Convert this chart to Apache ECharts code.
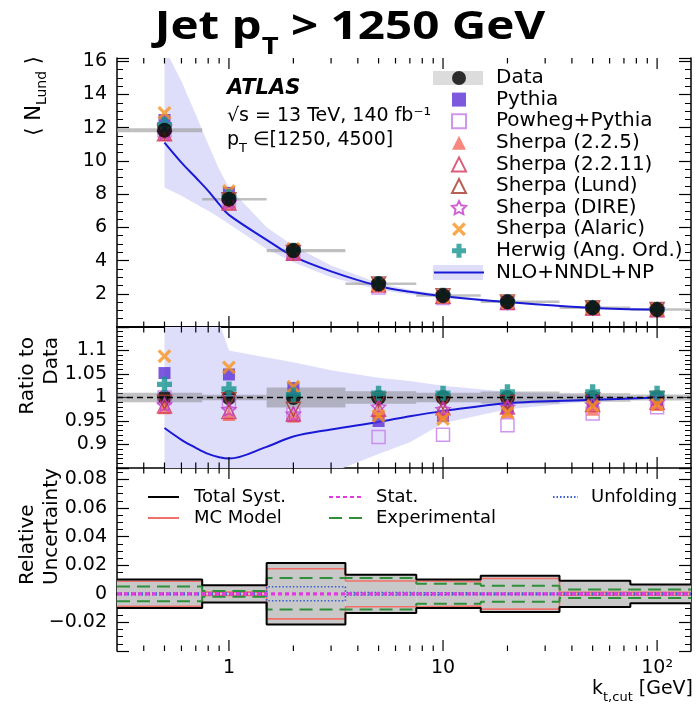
<!DOCTYPE html>
<html>
<head>
<meta charset="utf-8">
<style>
  html, body { margin: 0; padding: 0; background: #fff; }
  #chart { width: 696px; height: 713px; }
</style>
<script src="https://cdn.jsdelivr.net/npm/echarts@6.0.0/dist/echarts.min.js"></script>
</head>
<body>
<div id="chart"></div>
<script>
// ---- data ----
const ktCut = [0.5, 1, 2, 5, 10, 20, 50, 100];
const binEdges = [0.3, 0.75, 1.5, 3.5, 7.5, 15, 35, 75, 144];
const dataNLund = [11.85, 7.7, 4.6, 2.6, 1.9, 1.52, 1.16, 1.05];

// MC / Data ratios
const pythiaRatio = [1.052, 1.049, 1.02, 0.950, 0.961, 0.978, 0.992, 0.995];
const powhegRatio = [1.0, 0.99, 0.964, 0.916, 0.921, 0.941, 0.966, 0.979];
const sherpa225Ratio = [0.978, 0.964, 0.96, 0.97, 0.965, 0.97, 0.975, 0.985];
const sherpa2211Ratio = [0.982, 0.97, 0.965, 0.975, 0.978, 0.98, 0.985, 0.99];
const sherpaLundRatio = [0.99, 0.995, 0.975, 0.995, 0.99, 0.99, 0.995, 0.998];
const sherpaDireRatio = [0.985, 0.975, 0.965, 0.98, 0.975, 0.98, 0.985, 0.99];
const sherpaAlaricRatio = [1.088, 1.064, 1.023, 0.961, 0.954, 0.968, 0.982, 0.985];
const herwigRatio = [1.028, 1.018, 1.006, 1.009, 1.009, 1.012, 1.012, 1.009];

// NLO+NNDL+NP prediction
const theoryKt = [0.5, 0.6, 0.7, 0.8, 0.9, 1, 1.5, 2, 3, 5, 7, 10, 20, 50, 100];
const theoryMid = [11.1, 9.9, 9.0, 8.2, 7.4, 6.75, 5.25, 4.25, 3.35, 2.47, 2.12, 1.85, 1.5, 1.15, 1.05];
const theoryHigh = [16.8, 14.8, 12.8, 11.0, 9.5, 8.4, 6.0, 4.9, 3.7, 2.65, 2.25, 1.95, 1.54, 1.17, 1.06];
const theoryLow = [8.4, 7.9, 7.4, 7.0, 6.6, 6.2, 4.7, 3.9, 3.0, 2.25, 1.95, 1.76, 1.46, 1.13, 1.04];
const theoryRatioMid = [0.935, 0.91, 0.893, 0.88, 0.873, 0.87, 0.895, 0.917, 0.932, 0.948, 0.96, 0.971, 0.988, 0.995, 1.0];
const theoryRatioHigh = [1.25, 1.23, 1.21, 1.19, 1.16, 1.10, 1.085, 1.075, 1.058, 1.042, 1.035, 1.025, 1.012, 1.004, 1.0];
const theoryRatioLow = [0.7, 0.7, 0.7, 0.7, 0.7, 0.7, 0.74, 0.78, 0.84, 0.88, 0.905, 0.945, 0.975, 0.992, 1.0];

// relative uncertainties per bin
const totalSyst = [0.010, 0.006, 0.0215, 0.0134, 0.0100, 0.0127, 0.0092, 0.0066];
const mcModel = [0.0088, 0.0012, 0.0175, 0.0090, 0.0085, 0.0107, 0.0010, 0.0010];
const experimental = [0.0052, 0.0020, 0.0110, 0.0110, 0.0070, 0.0056, 0.0030, 0.0030];
const statUnc = [0.0004, 0.0004, 0.0004, 0.0004, 0.0004, 0.0004, 0.0004, 0.0004];
const unfolding = [0.0006, 0.0006, 0.0049, 0.0008, 0.0006, 0.0006, 0.0006, 0.0006];

// tick labels
const xMajor = [1, 10, 100];
const xMinor = [0.4, 0.5, 0.6, 0.7, 0.8, 0.9, 2, 3, 4, 5, 6, 7, 8, 9, 20, 30, 40, 50, 60, 70, 80, 90];
const yLabelsTop = [2, 4, 6, 8, 10, 12, 14, 16];
const yLabelsRatio = [0.9, 0.95, 1, 1.05, 1.1];
const yLabelsUnc = [-0.02, 0, 0.02, 0.04, 0.06, 0.08];

// ---- layout ----
const FONT = '"DejaVu Sans", "Liberation Sans", sans-serif';
const grids = [
  {left: 117, top: 58, width: 574, height: 269},
  {left: 117, top: 327, width: 574, height: 141},
  {left: 117, top: 468, width: 574, height: 183}
];
const yRanges = [[0, 16.2, 2, 4], [0.85, 1.15, 0.05, 5], [-0.04, 0.088, 0.02, 4]];
const yLabelSets = [yLabelsTop, yLabelsRatio, yLabelsUnc];

const STAR = 'path://M0,-10L2.9,-4L9.5,-3.1L4.7,1.5L5.9,8.1L0,5L-5.9,8.1L-4.7,1.5L-9.5,-3.1L-2.9,-4Z';
const ALARIC = 'path://M-10,-6.5L-6.5,-10L0,-3.2L6.5,-10L10,-6.5L3.2,0L10,6.5L6.5,10L0,3.2L-6.5,10L-10,6.5L-3.2,0Z';
const PLUS = 'path://M-3.6,-10L3.6,-10L3.6,-3.6L10,-3.6L10,3.6L3.6,3.6L3.6,10L-3.6,10L-3.6,3.6L-10,3.6L-10,-3.6L-3.6,-3.6Z';

const mcList = [
  {name: 'Pythia', ratio: pythiaRatio, symbol: 'rect', size: 12, color: '#5b2fd4', open: false},
  {name: 'Powheg+Pythia', ratio: powhegRatio, symbol: 'rect', size: 13, color: '#c47ae8', open: true},
  {name: 'Sherpa (2.2.5)', ratio: sherpa225Ratio, symbol: 'triangle', size: 13, color: '#f46a5c', open: false},
  {name: 'Sherpa (2.2.11)', ratio: sherpa2211Ratio, symbol: 'triangle', size: 14, color: '#d2335a', open: true},
  {name: 'Sherpa (Lund)', ratio: sherpaLundRatio, symbol: 'triangle', size: 14, color: '#a53a2c', open: true, rotate: 180},
  {name: 'Sherpa (DIRE)', ratio: sherpaDireRatio, symbol: STAR, size: 14, color: '#c43cc8', open: true},
  {name: 'Sherpa (Alaric)', ratio: sherpaAlaricRatio, symbol: ALARIC, size: 14, color: '#f7931e', open: false},
  {name: 'Herwig (Ang. Ord.)', ratio: herwigRatio, symbol: PLUS, size: 15, color: '#16938f', open: false}
];

const chart = echarts.init(document.getElementById('chart'));

function sameVal(a, b) { return Math.abs(a - b) < 1e-9; }

function yLabelFmt(allowed) {
  return v => {
    const hit = allowed.find(a => sameVal(a, v));
    return hit === undefined ? '' : String(hit).replace('-', '\u2212');
  };
}

function xLabelFmt(v) {
  const e = Math.log10(v);
  if (Math.abs(e - Math.round(e)) > 1e-6) return '';
  const n = Math.round(e);
  if (n === 0) return '1';
  if (n === 1) return '10';
  if (n === 2) return '10\u00b2';
  return '';
}

// x axes: bottom ones carry the scale, top ones only draw the frame line
const xAxes = [];
grids.forEach((g, i) => {
  xAxes.push({
    type: 'log', logBase: 10, gridIndex: i, min: 0.3, max: 144, position: 'bottom',
    axisLine: {show: true, lineStyle: {color: '#000', width: 1.5}},
    axisTick: {show: false}, minorTick: {show: false},
    splitLine: {show: false}, minorSplitLine: {show: false},
    axisLabel: {show: i === 2, formatter: xLabelFmt, color: '#000', fontSize: 19, fontFamily: FONT, margin: 8,
      showMinLabel: false, showMaxLabel: false}
  });
});
grids.forEach((g, i) => {
  xAxes.push({
    type: 'log', logBase: 10, gridIndex: i, min: 0.3, max: 144, position: 'top',
    axisLine: {show: true, lineStyle: {color: '#000', width: 1.5}},
    axisTick: {show: false}, axisLabel: {show: false}, splitLine: {show: false}
  });
});

const yAxes = [];
['left', 'right'].forEach(pos => {
  grids.forEach((g, i) => {
    const [min, max, interval, minorSplit] = yRanges[i];
    yAxes.push({
      type: 'value', gridIndex: i, position: pos, min, max, interval,
      axisLine: {show: true, onZero: false, lineStyle: {color: '#000', width: 1.5}},
      axisTick: {show: true, inside: true, length: 12, lineStyle: {color: '#000', width: 1.2}},
      minorTick: {show: true, splitNumber: minorSplit, length: 6, lineStyle: {color: '#000', width: 1}},
      splitLine: {show: false}, minorSplitLine: {show: false},
      axisLabel: {show: pos === 'left', formatter: yLabelFmt(yLabelSets[i]), color: '#000',
        fontSize: 19, fontFamily: FONT, margin: 10}
    });
  });
});

function xTickSeries(gi) {
  const [ymin, ymax] = yRanges[gi];
  const vals = xMajor.concat(xMinor);
  return {
    type: 'custom', xAxisIndex: gi, yAxisIndex: gi, silent: true, z: 20,
    data: vals.map(v => [v, ymin]),
    encode: {x: 0, y: 1},
    renderItem: (params, api) => {
      const v = api.value(0);
      const len = xMajor.some(m => sameVal(m, v)) ? 11 : 5.5;
      const b = api.coord([v, ymin]);
      const t = api.coord([v, ymax]);
      const st = {stroke: '#000', lineWidth: 1.2};
      return {type: 'group', children: [
        {type: 'line', shape: {x1: b[0], y1: b[1], x2: b[0], y2: b[1] - len}, style: st},
        {type: 'line', shape: {x1: t[0], y1: t[1], x2: t[0], y2: t[1] + len}, style: st}
      ]};
    }
  };
}

function binRects(gi, lows, highs, color, z) {
  return {
    type: 'custom', xAxisIndex: gi, yAxisIndex: gi, silent: true, z,
    data: lows.map((lo, i) => [binEdges[i], binEdges[i + 1], lo, highs[i]]),
    encode: {x: [0, 1], y: [2, 3]},
    renderItem: (params, api) => {
      const p0 = api.coord([api.value(0), api.value(2)]);
      const p1 = api.coord([api.value(1), api.value(3)]);
      let h = p0[1] - p1[1];
      let y = p1[1];
      if (h < 2.5) { y -= (2.5 - h) / 2; h = 2.5; }
      return {type: 'rect', shape: {x: p0[0], y, width: p1[0] - p0[0], height: h}, style: {fill: color}};
    }
  };
}

// theory uncertainty band as one clipped polygon
function bandSeries(gi, low, high) {
  return {
    type: 'custom', xAxisIndex: gi, yAxisIndex: gi, silent: true, z: 1,
    data: [[theoryKt[0], low[0]]],
    encode: {x: 0, y: 1},
    renderItem: (params, api) => {
      const upper = theoryKt.map((k, i) => api.coord([k, high[i]]));
      const lower = theoryKt.map((k, i) => api.coord([k, low[i]])).reverse();
      const cs = params.coordSys;
      return {
        type: 'polygon', shape: {points: upper.concat(lower)}, style: {fill: '#dedefa'},
        clipPath: {type: 'rect', shape: {x: cs.x, y: cs.y, width: cs.width, height: cs.height}}
      };
    }
  };
}

function theoryLine(gi, vals) {
  return {
    type: 'line', name: 'NLO+NNDL+NP', xAxisIndex: gi, yAxisIndex: gi,
    data: theoryKt.map((k, i) => [k, vals[i]]), smooth: 0.35, symbol: 'none', showSymbol: false,
    lineStyle: {color: '#1a1ad6', width: 2}, itemStyle: {color: '#1a1ad6'}, silent: true, z: 3
  };
}

function mcScatter(mc, gi, values) {
  return {
    type: 'scatter', name: mc.name, xAxisIndex: gi, yAxisIndex: gi,
    symbol: mc.symbol, symbolSize: mc.size, symbolRotate: mc.rotate || 0, symbolKeepAspect: true,
    itemStyle: {color: mc.open ? 'rgba(0,0,0,0)' : mc.color, borderColor: mc.color, borderWidth: mc.open ? 1.5 : 0},
    data: ktCut.map((k, i) => [k, values[i]]), silent: true, z: 4
  };
}

function stepSeries(name, arr, sign, lineStyle, z) {
  return {
    type: 'line', name, xAxisIndex: 2, yAxisIndex: 2, step: 'end', symbol: 'none', showSymbol: false,
    data: binEdges.map((e, i) => [e, sign * arr[Math.min(i, arr.length - 1)]]),
    lineStyle, itemStyle: {color: lineStyle.color}, silent: true, z
  };
}

const series = [];

// --- top panel ---
series.push(bandSeries(0, theoryLow, theoryHigh));
series.push(binRects(0, dataNLund.map((v, i) => v * (1 - totalSyst[i])),
  dataNLund.map((v, i) => v * (1 + totalSyst[i])), 'rgba(150,150,150,0.6)', 2));
series.push(theoryLine(0, theoryMid));
mcList.forEach(mc => series.push(mcScatter(mc, 0, dataNLund.map((v, i) => v * mc.ratio[i]))));
series.push({
  type: 'scatter', name: 'Data', xAxisIndex: 0, yAxisIndex: 0, symbol: 'circle', symbolSize: 15,
  itemStyle: {color: '#000'}, data: ktCut.map((k, i) => [k, dataNLund[i]]), silent: true, z: 6
});
series.push(xTickSeries(0));

// --- ratio panel ---
series.push(bandSeries(1, theoryRatioLow, theoryRatioHigh));
series.push(binRects(1, totalSyst.map(u => 1 - u), totalSyst.map(u => 1 + u), 'rgba(120,120,125,0.45)', 2));
series.push({
  type: 'scatter', name: 'Data', xAxisIndex: 1, yAxisIndex: 1, symbol: 'circle', symbolSize: 15,
  itemStyle: {color: '#000'}, data: ktCut.map(k => [k, 1]), silent: true, z: 3,
  markLine: {silent: true, symbol: 'none', label: {show: false},
    lineStyle: {color: '#000', width: 1.3, type: [6, 4]}, data: [{yAxis: 1}]}
});
series.push(theoryLine(1, theoryRatioMid));
mcList.forEach(mc => series.push(mcScatter(mc, 1, mc.ratio)));
series.push(xTickSeries(1));

// --- uncertainty panel ---
series.push(binRects(2, totalSyst.map(u => -u), totalSyst, '#c8c8c8', 1));
const uncStyles = [
  ['MC Model', mcModel, {color: '#f0706a', width: 1.6}, 3],
  ['Experimental', experimental, {color: '#2f8f3a', width: 2, type: [13, 7]}, 4],
  ['Unfolding', unfolding, {color: '#3b5bd0', width: 1.6, type: [1.5, 2]}, 5],
  ['Stat.', statUnc, {color: '#e03ae0', width: 2, type: [4, 3]}, 6],
  ['Total Syst.', totalSyst, {color: '#000', width: 2}, 7]
];
uncStyles.forEach(([name, arr, ls, z]) => {
  series.push(stepSeries(name, arr, 1, ls, z));
  series.push(stepSeries(name, arr, -1, ls, z));
});
series.push(xTickSeries(2));

// legend text sits 5px after the icon; extra left padding moves it to where the figure has it
function legendText(size, lh, extra) {
  return {color: '#000', fontSize: size, fontFamily: FONT, lineHeight: lh, padding: [0, 0, 0, extra]};
}
const noDot = {opacity: 0};

const option = {
  animation: false,
  textStyle: {fontFamily: FONT},
  grid: grids.map(g => Object.assign({show: false, outerBoundsMode: 'none', containLabel: false}, g)),
  xAxis: xAxes,
  yAxis: yAxes,
  legend: [
    {
      orient: 'vertical', left: 451, top: 67.2, padding: 0, itemGap: 0, itemWidth: 14, itemHeight: 14,
      selectedMode: false, textStyle: legendText(20, 21.6, 25),
      data: ['Data'].concat(mcList.map(m => m.name))
    },
    {
      orient: 'vertical', left: 433, top: 261.6, padding: 0, itemGap: 0, itemWidth: 50, itemHeight: 14,
      selectedMode: false, textStyle: legendText(20, 21.6, 7), itemStyle: noDot,
      data: ['NLO+NNDL+NP']
    },
    {
      orient: 'vertical', left: 147, top: 486.5, padding: 0, itemGap: 0, itemWidth: 31, itemHeight: 14,
      selectedMode: false, textStyle: legendText(18, 21, 10), itemStyle: noDot,
      data: ['Total Syst.', 'MC Model']
    },
    {
      orient: 'vertical', left: 328, top: 486.5, padding: 0, itemGap: 0, itemWidth: 34, itemHeight: 14,
      selectedMode: false, textStyle: legendText(18, 21, 8), itemStyle: noDot,
      data: ['Stat.', 'Experimental']
    },
    {
      orient: 'vertical', left: 552, top: 486.5, padding: 0, itemGap: 0, itemWidth: 25, itemHeight: 14,
      selectedMode: false, textStyle: legendText(18, 21, 8), itemStyle: noDot,
      data: ['Unfolding']
    }
  ],
  graphic: [
    // legend backdrops for the data band and the theory band
    {type: 'rect', left: 433, top: 71, shape: {width: 50, height: 14}, style: {fill: '#dcdcdc'}, z: 0, silent: true},
    {type: 'rect', left: 433, top: 265, shape: {width: 50, height: 15}, style: {fill: '#dedefa'}, z: 0, silent: true},
    {
      type: 'text', x: 350, y: 8, scaleX: 1.22, silent: true,
      style: {
        text: '{b|Jet p}{s|T}{b| > 1250 GeV}', textAlign: 'center', align: 'center',
        textVerticalAlign: 'top', verticalAlign: 'top', fill: '#000',
        rich: {
          b: {fontFamily: '"Open Sans", "DejaVu Sans", sans-serif', fontWeight: 'bold', fontSize: 39, lineHeight: 39, verticalAlign: 'top'},
          s: {fontFamily: '"Open Sans", "DejaVu Sans", sans-serif', fontWeight: 'bold', fontSize: 24, lineHeight: 24, verticalAlign: 'top', padding: [27, 0, 0, 0]}
        }
      }
    },
    {
      type: 'text', x: 227, y: 89, silent: true,
      style: {text: 'ATLAS', fontFamily: FONT, fontWeight: 'bold', fontStyle: 'italic', fontSize: 21,
        fill: '#000', textVerticalAlign: 'middle', verticalAlign: 'middle'}
    },
    {
      type: 'text', x: 227, y: 116, silent: true,
      style: {text: '\u221as = 13 TeV, 140 fb\u207b\u00b9', fontFamily: FONT, fontSize: 19,
        fill: '#000', textVerticalAlign: 'middle', verticalAlign: 'middle'}
    },
    {
      type: 'text', x: 227, y: 131, silent: true,
      style: {
        text: '{b|p}{s|T}{b| \u2208[1250, 4500]}', fill: '#000', textVerticalAlign: 'top', verticalAlign: 'top',
        rich: {
          b: {fontFamily: FONT, fontSize: 19, lineHeight: 19, verticalAlign: 'top'},
          s: {fontFamily: FONT, fontSize: 13, lineHeight: 13, verticalAlign: 'top', padding: [11, 0, 0, 0]}
        }
      }
    },
    {
      type: 'text', x: 35, y: 56, rotation: Math.PI / 2, silent: true,
      style: {
        text: '{b|\u27e8 N}{s|Lund}{b| \u27e9}', fill: '#000', textAlign: 'right', align: 'right',
        textVerticalAlign: 'middle', verticalAlign: 'middle',
        rich: {
          b: {fontFamily: FONT, fontSize: 21, lineHeight: 21, verticalAlign: 'top'},
          s: {fontFamily: FONT, fontSize: 14, lineHeight: 14, verticalAlign: 'top', padding: [11, 0, 0, 0]}
        }
      }
    },
    {
      type: 'text', x: 40, y: 337, rotation: Math.PI / 2, silent: true,
      style: {text: 'Ratio to\nData', fontFamily: FONT, fontSize: 20, lineHeight: 24, fill: '#000',
        textAlign: 'right', align: 'right', textVerticalAlign: 'middle', verticalAlign: 'middle'}
    },
    {
      type: 'text', x: 40, y: 585, rotation: Math.PI / 2, silent: true,
      style: {text: 'Relative\nUncertainty', fontFamily: FONT, fontSize: 20, lineHeight: 24, fill: '#000',
        textAlign: 'left', align: 'left', textVerticalAlign: 'middle', verticalAlign: 'middle'}
    },
    {
      type: 'text', x: 693, y: 680, silent: true,
      style: {
        text: '{b|k}{s|t,cut}{b| [GeV]}', fill: '#000', textAlign: 'right', align: 'right',
        textVerticalAlign: 'top', verticalAlign: 'top',
        rich: {
          b: {fontFamily: FONT, fontSize: 19, lineHeight: 19, verticalAlign: 'top'},
          s: {fontFamily: FONT, fontSize: 13, lineHeight: 13, verticalAlign: 'top', padding: [11, 0, 0, 0]}
        }
      }
    }
  ],
  series
};

chart.setOption(option);
</script>
</body>
</html>
